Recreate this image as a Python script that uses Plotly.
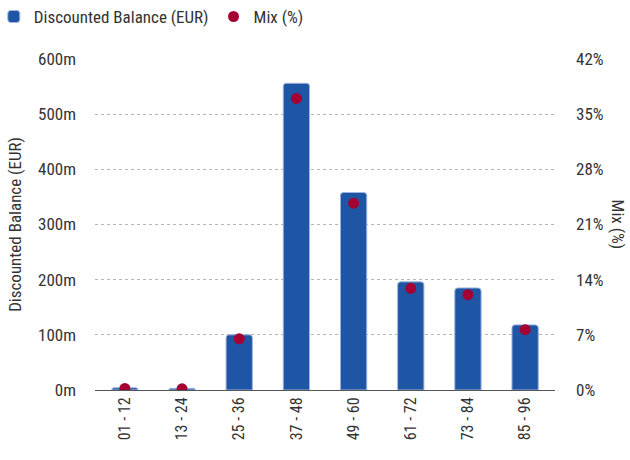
import plotly.graph_objects as go

categories = ["01 - 12", "13 - 24", "25 - 36", "37 - 48", "49 - 60", "61 - 72", "73 - 84", "85 - 96"]
balance_m = [4, 3, 100, 556, 358, 196, 185, 118]
mix_pct = [0.2, 0.15, 6.5, 37.0, 23.7, 12.9, 12.1, 7.65]
left_ticks = [0, 100, 200, 300, 400, 500, 600]
left_labels = ["0m", "100m", "200m", "300m", "400m", "500m", "600m"]
right_ticks = [0, 7, 14, 21, 28, 35, 42]
right_labels = ["0%", "7%", "14%", "21%", "28%", "35%", "42%"]

FONT = "Roboto Condensed, Liberation Sans Narrow, Roboto, sans-serif"
TXT = "#333333"

fig = go.Figure()
fig.add_trace(go.Bar(
    x=categories, y=balance_m, name="Discounted Balance (EUR)",
    marker=dict(color="#1f55a5", line=dict(color="#9fb5dc", width=1), cornerradius=3),
    width=0.46, yaxis="y",
))
fig.add_trace(go.Scatter(
    x=categories, y=mix_pct, name="Mix (%)", mode="markers",
    marker=dict(color="#a50034", size=11), yaxis="y2",
))

fig.update_layout(
    width=630, height=460,
    margin=dict(l=95, r=75, t=59, b=70, autoexpand=False),
    paper_bgcolor="white", plot_bgcolor="white",
    font=dict(family=FONT, size=17, color=TXT),
    showlegend=True,
    legend=dict(orientation="h", x=-0.22, xanchor="left", y=1.127, yanchor="middle",
                font=dict(size=17, color=TXT), itemwidth=30, traceorder="normal",
                bgcolor="rgba(0,0,0,0)"),
    xaxis=dict(tickangle=-90, showgrid=False, showline=True, linecolor="#555555",
               linewidth=1, ticks="", tickfont=dict(size=16), automargin=False),
    yaxis=dict(range=[0, 600], tickvals=left_ticks, ticktext=left_labels,
               showgrid=True, gridcolor="#b5b5b5", griddash="dot", gridwidth=1,
               zeroline=False, showline=False, ticks="", ticklabelstandoff=18,
               automargin=False,
               title=dict(text="Discounted Balance (EUR)", font=dict(size=17), standoff=12)),
    yaxis2=dict(range=[0, 42], tickvals=right_ticks, ticktext=right_labels,
                overlaying="y", side="right", showgrid=False, zeroline=False,
                showline=False, ticks="", ticklabelstandoff=20, automargin=False),
    annotations=[dict(text="Mix (%)", textangle=90, xref="paper", yref="paper",
                      x=1.139, y=0.5, xanchor="center", yanchor="middle",
                      showarrow=False, font=dict(size=17, color=TXT))],
)

fig.write_html("out.html", config={"displayModeBar": False},
               post_script="document.body.style.margin='0';")
